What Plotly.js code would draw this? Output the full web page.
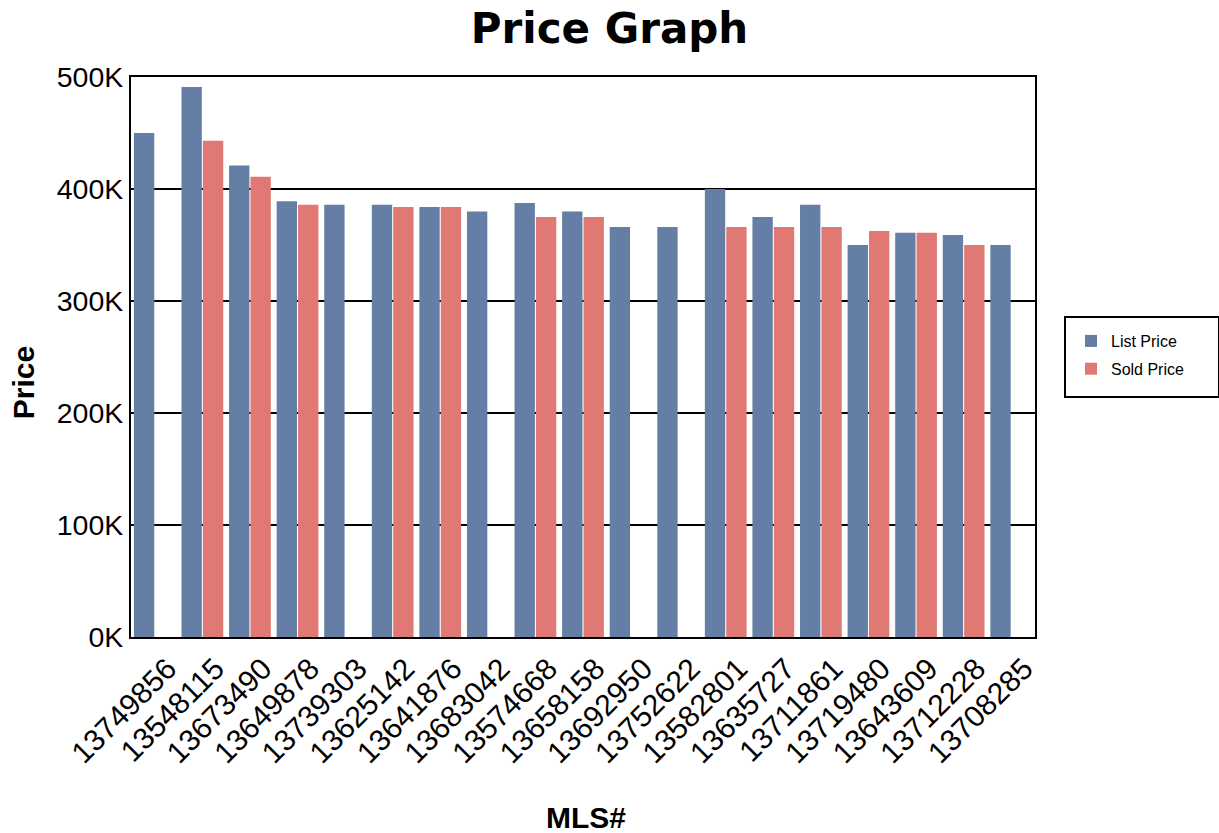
<!DOCTYPE html>
<html>
<head>
<meta charset="utf-8">
<script src="https://cdn.plot.ly/plotly-3.0.1.min.js"></script>
<style>html,body{margin:0;padding:0;background:#fff;}#chart{width:1219px;height:833px;}</style>
</head>
<body>
<div id="chart"></div>
<script>
const mlsNumbers = ["13749856","13548115","13673490","13649878","13739303","13625142","13641876","13683042","13574668","13658158","13692950","13752622","13582801","13635727","13711861","13719480","13643609","13712228","13708285"];
const listPrice = [450000,491000,421000,389000,386000,386000,384000,380000,387500,380000,366000,366000,400000,375000,386000,350000,361000,359000,350000];
const soldPrice = [null,443000,411000,386000,null,384000,384000,null,375000,375000,null,null,366000,366000,366000,362500,361000,350000,null];
const tickVals = [0,100000,200000,300000,400000,500000];
const tickText = ["0K","100K","200K","300K","400K","500K"];

const traces = [
  {type:'bar', name:'List Price', legendgroup:'a', x:mlsNumbers, y:listPrice, marker:{color:'rgb(100,126,165)'}},
  {type:'bar', name:'Sold Price', legendgroup:'b', x:mlsNumbers, y:soldPrice, marker:{color:'rgb(224,121,116)'}}
];
const layout = {
  width:1219, height:833,
  margin:{l:131, r:184, t:77, b:196},
  paper_bgcolor:'#fff', plot_bgcolor:'#fff',
  barmode:'group', bargap:0.1, bargroupgap:0.05,
  title:{text:'Price Graph', x:0.5, xanchor:'center', y:0.966, yanchor:'middle', font:{family:'DejaVu Sans', size:42, color:'#000', weight:'bold'}},
  xaxis:{type:'category', tickangle:-45, tickfont:{family:'Liberation Sans, Arial', size:30, color:'#000'}, ticklabelshift:13,
    showline:true, linecolor:'#000', linewidth:2, mirror:true, ticks:'', showgrid:false},
  yaxis:{range:[0,500000], tickvals:tickVals, ticktext:tickText, tickfont:{family:'Liberation Sans, Arial', size:28.5, color:'#000'},
    showline:true, linecolor:'#000', linewidth:2, mirror:true, ticks:'', showgrid:true, gridcolor:'#000', gridwidth:2, zeroline:false},
  annotations:[
    {text:'<b>Price</b>', xref:'paper', yref:'paper', x:-0.1195, y:0.455, xanchor:'center', yanchor:'middle', textangle:-90, showarrow:false,
     font:{family:'Liberation Sans, Arial', size:30, color:'#000'}},
    {text:'<b>MLS#</b>', xref:'paper', yref:'paper', x:0.503, y:-0.323, xanchor:'center', yanchor:'middle', showarrow:false,
     font:{family:'Liberation Sans, Arial', size:30, color:'#000'}}
  ],
  shapes:[
    {type:'rect', xref:'paper', yref:'paper', x0:1.0332, x1:1.2035, y0:0.4286, y1:0.5714, line:{color:'#000', width:2}, fillcolor:'rgba(0,0,0,0)'}
  ],
  legend:{x:1.0398, xanchor:'left', y:0.5589, yanchor:'top', borderwidth:0, bgcolor:'rgba(0,0,0,0)', traceorder:'grouped', tracegroupgap:4,
    font:{family:'Liberation Sans, Arial', size:16, color:'#000'}}
};
Plotly.newPlot('chart', traces, layout, {displayModeBar:false, staticPlot:true});
</script>
</body>
</html>
